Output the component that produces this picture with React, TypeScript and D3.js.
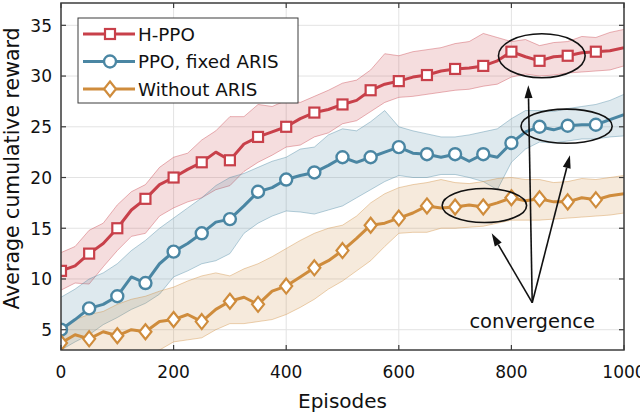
import React from 'react';
import * as d3 from 'd3';

const W = 640;
const H = 416;
const FONT = '"DejaVu Sans", Roboto, sans-serif';

// episodes sampled every 25, markers every 50
const episodes = d3.range(0, 1001, 25);

const hppoMean = [10.8, 11.3, 12.5, 13.5, 15.0, 16.8, 17.9, 19.3, 20.0, 20.8, 21.5, 22.5, 21.7, 23.3, 24.0, 24.5, 25.0, 25.8, 26.4, 26.7, 27.2, 27.6, 28.6, 29.2, 29.5, 29.9, 30.1, 30.5, 30.7, 30.8, 31.0, 31.5, 32.4, 31.9, 31.5, 31.9, 32.0, 32.3, 32.4, 32.5, 32.8];
const hppoUpper = [12.6, 13.2, 14.8, 15.5, 17.3, 18.6, 19.3, 21.0, 22.0, 22.4, 23.7, 24.6, 26.0, 26.0, 27.2, 27.0, 27.6, 27.4, 28.0, 28.6, 29.3, 29.6, 30.6, 32.2, 32.0, 32.4, 32.6, 32.8, 33.2, 33.4, 34.2, 33.8, 33.4, 33.6, 33.0, 33.3, 33.4, 33.9, 33.8, 34.3, 34.6];
const hppoLower = [8.9, 9.6, 9.5, 11.2, 12.8, 14.2, 14.5, 16.2, 17.0, 17.6, 18.0, 18.8, 19.2, 20.6, 21.5, 22.2, 23.0, 23.2, 24.0, 24.4, 25.3, 25.6, 26.5, 27.4, 27.9, 28.0, 28.2, 28.4, 28.6, 28.7, 29.0, 29.2, 29.9, 30.2, 30.0, 30.1, 30.3, 30.4, 30.5, 30.6, 31.0];

const ppoMean = [5.0, 6.0, 7.1, 7.5, 8.3, 10.2, 9.6, 11.5, 12.7, 13.5, 14.5, 15.6, 15.9, 17.2, 18.6, 19.0, 19.8, 20.2, 20.5, 21.2, 22.0, 21.5, 22.0, 22.5, 23.0, 22.4, 22.3, 22.0, 22.3, 21.6, 22.3, 22.0, 23.4, 24.5, 25.0, 24.7, 25.1, 25.2, 25.2, 25.7, 26.2];
const ppoUpper = [8.2, 9.0, 10.0, 10.6, 11.5, 12.8, 13.8, 15.0, 16.0, 17.0, 18.0, 19.2, 20.0, 20.4, 21.0, 21.6, 22.0, 22.8, 23.0, 24.2, 24.8, 24.6, 25.5, 26.6, 25.0, 24.6, 24.3, 24.0, 24.0, 24.2, 24.5, 24.8, 25.8, 26.6, 26.6, 26.5, 26.8, 27.0, 27.2, 27.6, 28.2];
const ppoLower = [3.0, 3.8, 4.5, 5.5, 6.2, 7.0, 7.6, 8.5, 10.2, 10.8, 11.5, 11.8, 12.5, 14.5, 15.5, 16.2, 16.7, 16.6, 16.4, 16.8, 17.2, 18.0, 18.8, 19.6, 20.2, 20.0, 20.0, 20.3, 20.3, 20.0, 19.6, 18.8, 21.5, 22.8, 23.5, 23.4, 23.6, 23.8, 23.8, 24.0, 24.1];

const noArisMean = [3.7, 4.5, 4.1, 4.8, 4.4, 5.0, 4.8, 5.8, 6.0, 6.5, 5.8, 7.0, 7.8, 8.2, 7.5, 8.8, 9.3, 10.2, 11.1, 11.8, 12.8, 14.0, 15.3, 15.5, 16.0, 16.5, 17.2, 17.0, 17.1, 17.3, 17.1, 17.5, 18.0, 17.7, 17.9, 17.6, 17.6, 18.0, 17.8, 18.2, 18.4];
const noArisUpper = [5.2, 6.0, 6.5, 6.8, 7.5, 8.0, 8.3, 8.8, 9.2, 9.8, 10.3, 10.6, 10.3, 11.0, 11.5, 12.2, 13.0, 13.8, 14.5, 15.0, 15.3, 16.2, 17.5, 18.4, 19.0, 19.3, 19.5, 19.8, 19.5, 19.4, 19.6, 19.9, 20.0, 19.8, 19.8, 19.5, 19.6, 19.9, 19.8, 20.0, 20.2];
const noArisLower = [2.0, 2.2, 2.2, 2.4, 2.5, 2.6, 2.6, 3.0, 3.8, 4.0, 4.2, 5.0, 5.6, 5.6, 5.8, 6.0, 6.5, 7.2, 8.0, 9.0, 9.8, 10.8, 11.8, 13.2, 14.5, 14.6, 14.6, 15.0, 15.0, 15.1, 15.2, 15.5, 15.8, 15.8, 15.8, 15.9, 16.0, 16.1, 16.2, 16.3, 16.5];

const xTicks = [0, 200, 400, 600, 800, 1000];
const yTicks = [5, 10, 15, 20, 25, 30, 35];

// annotations in data units
const ellipses = [
  { ep: 854, val: 32.0, rx: 77, ry: 2.17 },
  { ep: 898, val: 25.06, rx: 81, ry: 1.68 },
  { ep: 752, val: 17.24, rx: 75, ry: 1.68 },
];
const arrowFrom = { ep: 837, val: 7.66 };
const arrowTips = [
  { ep: 830, val: 29.1 },
  { ep: 904, val: 22.2 },
  { ep: 765, val: 14.5 },
];
const noteLabel = { ep: 837, val: 5.2, text: 'convergence' };

const series = [
  { name: 'H-PPO', color: '#c8404a', marker: 'square', mean: hppoMean, upper: hppoUpper, lower: hppoLower },
  { name: 'PPO, fixed ARIS', color: '#4a86a3', marker: 'circle', mean: ppoMean, upper: ppoUpper, lower: ppoLower },
  { name: 'Without ARIS', color: '#cf8c3c', marker: 'diamond', mean: noArisMean, upper: noArisUpper, lower: noArisLower },
];

function Marker({ type, x, y, color }: { type: string; x: number; y: number; color: string }) {
  if (type === 'square') {
    return <rect x={x - 5} y={y - 5} width={10} height={10} fill="#fff" stroke={color} strokeWidth={2.2} />;
  }
  if (type === 'circle') {
    return <circle cx={x} cy={y} r={6} fill="#fff" stroke={color} strokeWidth={2.4} />;
  }
  return <path d={`M${x},${y - 7.5}L${x + 6},${y}L${x},${y + 7.5}L${x - 6},${y}Z`} fill="#fff" stroke={color} strokeWidth={2.2} />;
}

export default function App() {
  const left = 61, right = 624, top = 3, bottom = 350;
  const x = d3.scaleLinear().domain([0, 1000]).range([left, right]);
  const y = d3.scaleLinear().domain([3, 37.2]).range([bottom, top]);

  const line = d3.line<number>().x((_, i) => x(episodes[i])).y((d) => y(d));

  const arrowLen = 13, arrowHalf = 4;
  const ax = x(arrowFrom.ep), ay = y(arrowFrom.val);

  return (
    <svg width={W} height={H} style={{ position: 'absolute', left: 0, top: 0, background: '#fff' }} fontFamily={FONT}>
      <defs>
        <clipPath id="plot">
          <rect x={left} y={top} width={right - left} height={bottom - top} />
        </clipPath>
      </defs>
      <rect x={0} y={0} width={W} height={H} fill="#fff" />

      {/* grid */}
      {xTicks.map((t) => (
        <line key={'gx' + t} x1={x(t)} x2={x(t)} y1={top} y2={bottom} stroke="#e3e3e3" strokeWidth={1} />
      ))}
      {yTicks.map((t) => (
        <line key={'gy' + t} x1={left} x2={right} y1={y(t)} y2={y(t)} stroke="#e3e3e3" strokeWidth={1} />
      ))}

      <g clipPath="url(#plot)">
        {series.map((s) => {
          const area = d3.area<number>()
            .x((_, i) => x(episodes[i]))
            .y0((_, i) => y(s.lower[i]))
            .y1((d) => y(d));
          return (
            <g key={'band' + s.name}>
              <path d={area(s.upper) || ''} fill={s.color} fillOpacity={0.18} />
              <path d={line(s.upper) || ''} fill="none" stroke={s.color} strokeOpacity={0.4} strokeWidth={1} />
              <path d={line(s.lower) || ''} fill="none" stroke={s.color} strokeOpacity={0.4} strokeWidth={1} />
            </g>
          );
        })}
        {series.map((s) => (
          <g key={'line' + s.name}>
            <path d={line(s.mean) || ''} fill="none" stroke={s.color} strokeWidth={3} strokeLinejoin="round" />
            {s.mean.map((v, i) => (i % 2 === 0 && episodes[i] < 1000 ? (
              <Marker key={i} type={s.marker} x={x(episodes[i])} y={y(v)} color={s.color} />
            ) : null))}
          </g>
        ))}
      </g>

      {/* frame and ticks */}
      <rect x={left} y={top} width={right - left} height={bottom - top} fill="none" stroke="#3c3c3c" strokeWidth={1.5} />
      {xTicks.map((t) => (
        <g key={'tx' + t}>
          <line x1={x(t)} x2={x(t)} y1={bottom} y2={bottom - 5} stroke="#3c3c3c" strokeWidth={1.2} />
          <line x1={x(t)} x2={x(t)} y1={top} y2={top + 5} stroke="#3c3c3c" strokeWidth={1.2} />
          <text x={x(t)} y={378} textAnchor="middle" fontSize={17} fill="#111">{t}</text>
        </g>
      ))}
      {yTicks.map((t) => (
        <g key={'ty' + t}>
          <line x1={left} x2={left + 5} y1={y(t)} y2={y(t)} stroke="#3c3c3c" strokeWidth={1.2} />
          <line x1={right} x2={right - 5} y1={y(t)} y2={y(t)} stroke="#3c3c3c" strokeWidth={1.2} />
          <text x={52} y={y(t) + 6.3} textAnchor="end" fontSize={17} fill="#111">{t}</text>
        </g>
      ))}

      <text x={(left + right) / 2} y={408} textAnchor="middle" fontSize={20} fill="#111">Episodes</text>
      <text transform="translate(18.5,168.5) rotate(-90)" textAnchor="middle" fontSize={20.5} fill="#111">
        Average cumulative reward
      </text>

      {/* annotations */}
      {ellipses.map((e, i) => (
        <ellipse key={'el' + i} cx={x(e.ep)} cy={y(e.val)} rx={x(e.rx) - x(0)} ry={y(0) - y(e.ry)} fill="none" stroke="#111" strokeWidth={1.6} />
      ))}
      {arrowTips.map((t, i) => {
        const tx = x(t.ep), ty = y(t.val);
        const ang = Math.atan2(ty - ay, tx - ax);
        const bx = tx - arrowLen * Math.cos(ang), by = ty - arrowLen * Math.sin(ang);
        const px = -Math.sin(ang) * arrowHalf, py = Math.cos(ang) * arrowHalf;
        return (
          <g key={'ar' + i}>
            <line x1={ax} y1={ay} x2={bx} y2={by} stroke="#111" strokeWidth={1.6} />
            <path d={`M${tx},${ty}L${bx + px},${by + py}L${bx - px},${by - py}Z`} fill="#111" />
          </g>
        );
      })}
      <text x={x(noteLabel.ep)} y={y(noteLabel.val)} textAnchor="middle" fontSize={19.5} fill="#111">{noteLabel.text}</text>

      {/* legend */}
      <rect x={78} y={18} width={220} height={85} fill="#fff" stroke="#3c3c3c" strokeWidth={1} />
      {series.map((s, i) => {
        const ly = 34 + i * 27.5;
        return (
          <g key={'lg' + s.name}>
            <line x1={83} x2={135} y1={ly} y2={ly} stroke={s.color} strokeWidth={3} />
            <Marker type={s.marker} x={110} y={ly} color={s.color} />
            <text x={138} y={ly + 6.6} fontSize={18.3} fill="#111">{s.name}</text>
          </g>
        );
      })}
    </svg>
  );
}
